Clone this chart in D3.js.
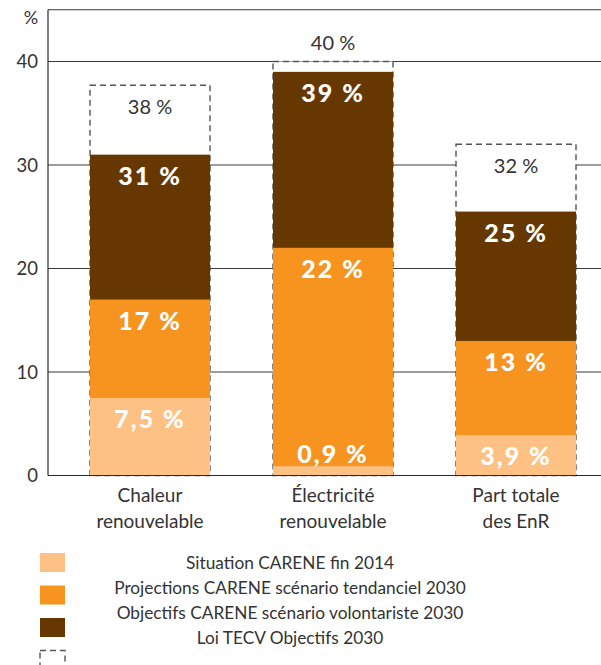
<!DOCTYPE html>
<html><head><meta charset="utf-8">
<script src="https://cdn.jsdelivr.net/npm/d3@7"></script>
<style>
html,body{margin:0;padding:0;background:#fff;}
svg{display:block;font-family:Lato,"Open Sans",sans-serif;}
</style></head>
<body><svg id="chart" width="601" height="665"></svg>
<script>
// ---- data ----
const categories = ["Chaleur renouvelable", "Électricité renouvelable", "Part totale des EnR"];
const categoryLines = [["Chaleur", "renouvelable"], ["Électricité", "renouvelable"], ["Part totale", "des EnR"]];
const situation2014 = [7.5, 0.9, 3.9];
const tendanciel2030 = [17, 22, 13];
const volontariste2030 = [31, 39, 25.5];
const tecv2030 = [37.7, 40, 32];
const labelsSituation = ["7,5 %", "0,9 %", "3,9 %"];
const labelsTendanciel = ["17 %", "22 %", "13 %"];
const labelsVolontariste = ["31 %", "39 %", "25 %"];
const labelsTecv = ["38 %", "40 %", "32 %"];
const yTicks = [0, 10, 20, 30, 40];
const seriesNames = ["Situation CARENE fin 2014", "Projections CARENE scénario tendanciel 2030",
  "Objectifs CARENE scénario volontariste 2030", "Loi TECV Objectifs 2030"];

const colors = {light: "#FDC183", orange: "#F7931F", brown: "#663800"};

const svg = d3.select("#chart");
const y = d3.scaleLinear().domain([0, 45]).range([475.5, 9.75]);
const x = d3.scaleBand().domain(categories).range([48, 618]).paddingInner(63/183).paddingOuter(42/183);

// gridlines
svg.append("g").selectAll("line").data(yTicks.filter(d => d > 0)).join("line")
  .attr("x1", 48).attr("x2", 601).attr("y1", d => y(d)).attr("y2", d => y(d))
  .attr("stroke", "#3a3a3a").attr("stroke-width", 1);

// frame top
svg.append("line").attr("x1", 48).attr("x2", 601).attr("y1", y(45)).attr("y2", y(45))
  .attr("stroke", "#3a3a3a").attr("stroke-width", 1.2);

// y tick labels
svg.append("g").selectAll("text").data(yTicks).join("text")
  .attr("x", 38).attr("y", d => y(d)).attr("dy", "0.36em").attr("text-anchor", "end")
  .attr("font-size", 18.5).attr("fill", "#333").text(d => d);
svg.append("text").attr("x", 31).attr("y", 18).attr("dy", "0.36em").attr("text-anchor", "middle")
  .attr("font-size", 18).attr("fill", "#333").text("%");

const bars = svg.append("g");
// dashed TECV boxes (white fill)
bars.selectAll("rect.tecv").data(categories).join("rect").attr("class", "tecv")
  .attr("x", d => x(d)).attr("width", x.bandwidth())
  .attr("y", (d, i) => y(tecv2030[i])).attr("height", (d, i) => y(0) - y(tecv2030[i]))
  .attr("fill", "#fff").attr("stroke", "#555").attr("stroke-width", 1.4).attr("stroke-dasharray", "6,4");

function drawSeries(vals, color) {
  bars.append("g").selectAll("rect").data(categories).join("rect")
    .attr("x", d => x(d)).attr("width", x.bandwidth())
    .attr("y", (d, i) => y(vals[i])).attr("height", (d, i) => y(0) - y(vals[i]))
    .attr("fill", color);
}
drawSeries(volontariste2030, colors.brown);
drawSeries(tendanciel2030, colors.orange);
drawSeries(situation2014, colors.light);

// baseline & y axis line
svg.append("line").attr("x1", 48).attr("x2", 601).attr("y1", y(0)).attr("y2", y(0))
  .attr("stroke", "#2a2a2a").attr("stroke-width", 1.2);
svg.append("line").attr("x1", 48).attr("x2", 48).attr("y1", y(45)).attr("y2", y(0))
  .attr("stroke", "#2a2a2a").attr("stroke-width", 1.2);

// value labels
function drawLabels(vals, lower, labels, white) {
  svg.append("g").selectAll("text").data(categories).join("text")
    .attr("x", d => x(d) + x.bandwidth() / 2)
    .attr("y", (d, i) => {
      const small = vals[i] - lower[i] < 2;
      return small ? y(vals[i]) - (white ? 12 : 19) : y(vals[i]) + 21;
    })
    .attr("dy", "0.36em").attr("text-anchor", "middle")
    .attr("font-size", white ? 25 : 20).attr("font-weight", white ? 900 : 400)
    .attr("letter-spacing", white ? 2 : 0)
    .attr("fill", white ? "#fff" : "#333")
    .text((d, i) => labels[i]);
}
drawLabels(situation2014, [0, 0, 0], labelsSituation, true);
drawLabels(tendanciel2030, situation2014, labelsTendanciel, true);
drawLabels(volontariste2030, tendanciel2030, labelsVolontariste, true);
drawLabels(tecv2030, volontariste2030, labelsTecv, false);

// category labels
const cat = svg.append("g").selectAll("text").data(categories).join("text")
  .attr("text-anchor", "middle").attr("font-size", 19).attr("fill", "#333");
cat.each(function(d, i) {
  const t = d3.select(this);
  categoryLines[i].forEach((ln, k) => {
    t.append("tspan").attr("x", x(d) + x.bandwidth() / 2).attr("y", 495 + k * 26).attr("dy", "0.36em").text(ln);
  });
});

// legend
const swatchFill = [colors.light, colors.orange, colors.brown, "#fff"];
svg.append("g").selectAll("rect").data(seriesNames).join("rect")
  .attr("x", 40).attr("y", (d, i) => 553 + i * 32.5).attr("width", 25).attr("height", 19)
  .attr("fill", (d, i) => swatchFill[i])
  .attr("stroke", (d, i) => i === 3 ? "#555" : "none").attr("stroke-width", 1.4)
  .attr("stroke-dasharray", (d, i) => i === 3 ? "6,4" : null);
svg.append("g").selectAll("text").data(seriesNames).join("text")
  .attr("x", 290).attr("y", (d, i) => 563 + i * 25).attr("dy", "0.36em")
  .attr("text-anchor", "middle").attr("font-size", 17.3).attr("fill", "#333").text(d => d);
</script></body></html>
